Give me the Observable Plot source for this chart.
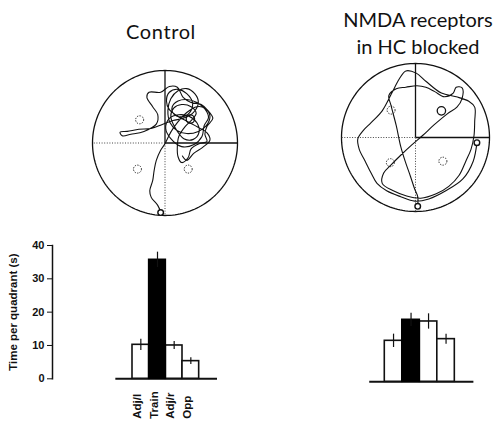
<!DOCTYPE html>
<html><head><meta charset="utf-8">
<script src="https://cdn.jsdelivr.net/npm/d3@7"></script>
<script src="https://cdn.jsdelivr.net/npm/@observablehq/plot@0.6"></script>
<style>
body{margin:0;width:502px;height:426px;overflow:hidden;background:#fff;position:relative}
.p{position:absolute}
.title{position:absolute;font-family:Lato,"Open Sans",sans-serif;font-size:20px;text-align:center;color:#111;line-height:26.5px}
</style></head><body>
<div class="title" style="left:91px;top:18px;width:140px;letter-spacing:0.6px">Control</div>
<div class="title" style="left:318px;top:6px;width:200px">NMDA receptors<br>in HC blocked</div>
<div class="p" id="m1" style="left:88.5px;top:67px"></div>
<div class="p" id="m2" style="left:337.5px;top:59.5px"></div>
<div class="p" id="b1" style="left:0px;top:235px"></div>
<div class="p" id="b2" style="left:340px;top:237.7px"></div>
<script>
// ---- Data ----
const quadrantCats = ["Adj/l", "Train", "Adj/r", "Opp"];
const controlTime = [10.2, 35.7, 10.0, 5.3];
const controlErr = [1.7, 2.3, 1.2, 1.0];
const nmdaTime = [12.3, 18.6, 18.1, 12.8];
const nmdaErr = [2.0, 2.0, 2.3, 1.5];
const yTicks = [0, 10, 20, 30, 40];
const yLabel = "Time per quadrant (s)";

// swim paths in pool coordinates (pool radius = 100)
const controlPath = [[-6,-95],[-10,-86],[-19,-75],[-21,-66],[-17,-52],[-15,-38],[-12,-24],[-6,-10],[0,-1],
[8,15],[17,28],[30,42],[44,50],[55,48],[62,37],[57,24],[46,16],[30,13],[17,17],[7,28],[4,45],[8,61],[18,72],[30,75],[41,68],[46,56],[39,42],[25,34],[11,31],[-3,26],[-19,20],[-36,19],[-52,16],[-62,15],[-59,10],[-47,12],[-29,16],[-12,26],[-10,39],[-17,50],[-25,63],[-22,70],[-6,70],[6,78],[17,77],[25,63],[36,56],[50,53],[59,45],[66,34],[58,23],[55,12],[58,2],[47,-1],[36,-8],[32,-20],[23,-27],[18,-19],[17,-5],[19,9],[28,23],[37,32],[43,41],[36,50],[23,53],[12,48],[8,37],[14,21],[26,6],[39,5],[47,15],[44,28],[33,37],[19,39],[6,34],[1,20],[8,6],[23,-5],[40,-2],[51,9],[54,24],
[60,35],[55,47],[44,56],[30,60],[18,58],[10,50],[12,40],[22,36],[34,42],[38,55],[30,68],[18,74],[6,70],[2,58],[6,46],[16,38],[30,30],[45,22],[58,14],[62,4],[52,-6],[40,-14],[30,-24],[24,-18]];
const nmdaPath = [[3,-93],[3,-80],[-1,-70],[-7,-52],[-14,-32],[-20,-12],[-26,16],[-33,43],[-36,57],[-26,66],[-13,68],[2,70],[14,68],[26,62],[39,55],[51,60],[55,68],[63,67],[63,53],[56,41],[43,32],[25,17],[10,3],[-5,-10],[-20,-24],[-33,-37],[-43,-48],[-45,-62],[-30,-72],[-12,-79],[7,-82],[28,-76],[45,-66],[59,-51],[68,-32],[75,-16],[79,2],[80,22],[80,41],[72,49],[55,55],[35,60],[14,76],[1,87],[-13,90],[-22,79],[-32,60],[-45,36],[-60,20],[-71,9],[-78,-2],[-76,-16],[-68,-32],[-60,-48],[-52,-62],[-39,-72],[-20,-80],[-1,-86],[18,-83],[41,-72],[64,-56],[78,-32],[83,-7]];

const controlAnnuli = [{x:-35,y:32},{x:-38,y:-36},{x:32,y:-36}];
const controlTrain = [{x:35,y:33}];
const controlStarts = [{x:-6,y:-96}];
const nmdaAnnuli = [{x:-33,y:37},{x:-34,y:-34},{x:37,y:-32}];
const nmdaTrain = [{x:35,y:36}];
const nmdaStarts = [{x:3,y:-93},{x:83,y:-7}];

const quadrantLines = [
  {x1:0,y1:0,x2:0,y2:100,solid:true},
  {x1:0,y1:0,x2:100,y2:0,solid:true},
  {x1:0,y1:0,x2:-100,y2:0,solid:false},
  {x1:0,y1:0,x2:0,y2:-100,solid:false}
];
const arenaOutline = d3.range(0, 360, 2).map(a => ({x: 100*Math.cos(a*Math.PI/180), y: 100*Math.sin(a*Math.PI/180)}));

function mazePlot(path, annuli, train, starts, size) {
  return Plot.plot({
    width: size, height: size, margin: 3,
    x: {domain: [-100, 100], axis: null},
    y: {domain: [-100, 100], axis: null},
    style: {background: "transparent", overflow: "visible"},
    marks: [
      Plot.line(arenaOutline, {x: "x", y: "y", curve: "linear-closed", stroke: "#111", strokeWidth: 1.3}),
      Plot.link(quadrantLines.filter(q => q.solid), {x1: "x1", y1: "y1", x2: "x2", y2: "y2", stroke: "#111", strokeWidth: 1.3}),
      Plot.link(quadrantLines.filter(q => !q.solid), {x1: "x1", y1: "y1", x2: "x2", y2: "y2", stroke: "#444", strokeWidth: 1, strokeDasharray: "1,1.6"}),
      Plot.dot(annuli, {x: "x", y: "y", r: 4, stroke: "#222", strokeWidth: 1, strokeDasharray: "1.3,1.3", fill: "none"}),
      Plot.dot(train, {x: "x", y: "y", r: 4.2, stroke: "#111", strokeWidth: 1.3, fill: "white"}),
      Plot.line(path, {x: d => d[0], y: d => d[1], curve: "catmull-rom", stroke: "#111", strokeWidth: 1.1}),
      Plot.dot(starts, {x: "x", y: "y", r: 2.8, fill: "white", stroke: "#111", strokeWidth: 1.4})
    ]
  });
}

function barPlot(vals, errs, opts) {
  const data = quadrantCats.map((c, i) => ({cat: c, i, v: vals[i], e: errs[i]}));
  const marks = [
    Plot.ruleY([0], {x1: opts.base[0], x2: opts.base[1], stroke: "#111", strokeWidth: 2}),
    Plot.rectY(data.filter(d => d.cat !== "Train"), {x1: "i", x2: d => d.i + 1, y: "v", fill: "white", stroke: "#111", strokeWidth: 1.6}),
    Plot.rectY(data.filter(d => d.cat === "Train"), {x1: "i", x2: d => d.i + 1, y: "v", fill: "#000", stroke: "#000", strokeWidth: 1.6}),
    Plot.ruleX(data, {x: d => d.i + 0.5, y1: d => d.v - d.e, y2: d => d.v + d.e, stroke: "#111", strokeWidth: 1.2})
  ];
  if (opts.axis) {
    marks.push(
      Plot.frame({anchor: "left", stroke: "#111", strokeWidth: 1.5}),
      Plot.axisY({ticks: yTicks, tickSize: 5, tickPadding: 3, fontSize: 11, fontWeight: "bold", fontFamily: "Liberation Sans", label: null}),
      Plot.text([yLabel], {text: d => d, frameAnchor: "left", textAnchor: "middle", dx: -39, rotate: -90, fontSize: 11.5, fontWeight: "bold", fontFamily: "Liberation Sans", fill: "#111"}),
      Plot.text(data, {x: d => d.i + 0.5, text: "cat", frameAnchor: "bottom", dy: 40, rotate: -90, textAnchor: "start", fontSize: 11.5, fontWeight: "bold", fontFamily: "Liberation Sans", fill: "#111"})
    );
  }
  return Plot.plot({
    width: opts.width, height: 191,
    marginTop: 10, marginBottom: 47.7, marginLeft: opts.ml, marginRight: opts.mr,
    x: {domain: opts.domain, axis: null},
    y: {domain: [0, 40], axis: null},
    style: {background: "transparent", overflow: "visible", color: "#111"},
    marks
  });
}

document.getElementById("m1").append(mazePlot(controlPath, controlAnnuli, controlTrain, controlStarts, 151));
document.getElementById("m2").append(mazePlot(nmdaPath, nmdaAnnuli, nmdaTrain, nmdaStarts, 154));
document.getElementById("b1").append(barPlot(controlTime, controlErr, {width: 260, ml: 52, mr: 28, domain: [-4.8, 6], base: [-1, 5.1], axis: true}));
document.getElementById("b2").append(barPlot(nmdaTime, nmdaErr, {width: 160, ml: 0, mr: 0, domain: [-2.53, 6.61], base: [-0.86, 5.09], axis: false}));
</script>
</body></html>
